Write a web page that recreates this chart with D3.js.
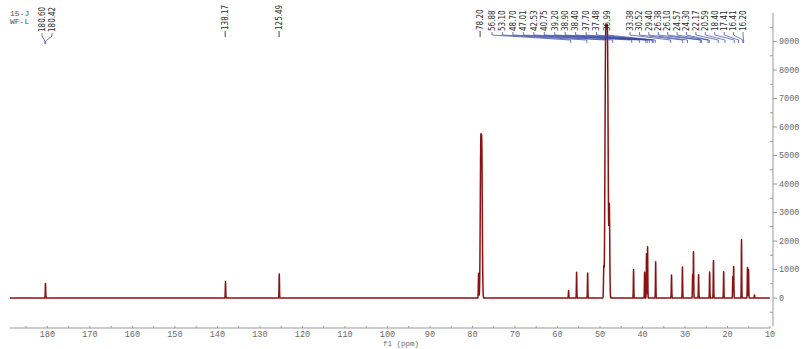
<!DOCTYPE html>
<html>
<head>
<meta charset="utf-8">
<style>
  body { margin: 0; background: #fff; }
  svg { display: block; }
  .tick-label { font-family: "Liberation Mono", "DejaVu Sans Mono", monospace; font-size: 8.5px; fill: #6a6a6a; }
  .peak-label { font-family: "Liberation Sans Narrow", "DejaVu Sans Condensed", sans-serif; font-stretch: condensed; font-size: 8px; fill: #2a2a2a; }
</style>
</head>
<body>
<svg id="chart" width="806" height="349"></svg>
<script src="https://cdn.jsdelivr.net/npm/d3@7"></script>
<script>
// peak list (ppm, height, gaussian sigma in ppm)
const peakPpm = [180.45, 138.1, 125.45, 78.55, 78.05, 77.8, 57.38, 55.5, 52.9, 49.1, 48.7, 48.45, 48.2, 47.8,
  42.1, 39.5, 39.05, 38.8, 36.9, 33.17, 30.6, 28.2, 28.0, 26.8, 24.2, 23.3, 20.9, 18.75, 18.55,
  16.7, 15.3, 15.05, 13.65];
const peakHeight = [520, 570, 860, 880, 4950, 4900, 260, 900, 880, 1000, 7500, 6500, 7500, 3200,
  1000, 900, 1580, 1800, 1270, 820, 1090, 820, 1620, 820, 910, 1320, 920, 760, 1130,
  2050, 1070, 1020, 110];
const peakSigma = [0.05, 0.05, 0.05, 0.06, 0.12, 0.12, 0.05, 0.05, 0.05, 0.07, 0.14, 0.14, 0.14, 0.1,
  0.05, 0.05, 0.05, 0.05, 0.05, 0.05, 0.05, 0.05, 0.05, 0.05, 0.05, 0.05, 0.05, 0.05, 0.05,
  0.05, 0.05, 0.05, 0.05];

// annotations printed above the peaks
const leftLabels = ["180.60", "180.42"];
const singleLabels = ["138.17", "125.49", "78.20"];
const groupOneLabels = ["56.88", "53.10", "48.70", "47.01", "42.53", "40.75", "39.20", "38.90",
  "38.40", "37.70", "37.48", "36.99"];
const groupTwoLabels = ["33.38", "30.52", "29.40", "26.38", "26.10", "24.57", "24.30", "22.17",
  "20.59", "18.40", "17.41", "16.41", "16.20"];

const xTicks = d3.range(180, 9, -10);
const yTicks = d3.range(0, 9001, 1000);
const titleLines = ["15-J", "WF-L"];

const svg = d3.select("#chart");

const x = d3.scaleLinear().domain([188.8, 10]).range([10, 770]);
const y = d3.scaleLinear().domain([-1000, 10000]).range([326.5, 13]);

// build the trace from the peak list
const step = 0.02;
const grid = d3.range(188.8, 10, -step);
const trace = grid.map(p => {
  let v = 0;
  for (let i = 0; i < peakPpm.length; i++) {
    const d = p - peakPpm[i];
    const s = peakSigma[i];
    if (Math.abs(d) < s * 8) v += peakHeight[i] * Math.exp(-d * d / (2 * s * s));
  }
  return [p, v];
});

const line = d3.line().x(d => x(d[0])).y(d => y(d[1]));

svg.append("path")
  .datum(trace)
  .attr("d", line)
  .attr("fill", "none")
  .attr("stroke", "#8a1212")
  .attr("stroke-width", 1.5)
  .attr("stroke-linejoin", "round");

// x axis
const xAxisY = 328;
svg.append("line")
  .attr("x1", 10).attr("x2", 770)
  .attr("y1", xAxisY).attr("y2", xAxisY)
  .attr("stroke", "#999").attr("stroke-width", 1);

svg.append("g").selectAll("line")
  .data(d3.range(185, 9, -5))
  .join("line")
  .attr("x1", d => x(d)).attr("x2", d => x(d))
  .attr("y1", xAxisY - 2).attr("y2", xAxisY)
  .attr("stroke", "#999");

svg.append("g").selectAll("text")
  .data(xTicks)
  .join("text")
  .attr("class", "tick-label")
  .attr("x", d => x(d))
  .attr("y", 337)
  .attr("text-anchor", "middle")
  .text(d => d);

svg.append("text")
  .attr("class", "tick-label")
  .attr("x", 401).attr("y", 346)
  .attr("text-anchor", "middle")
  .style("font-size", "7.5px")
  .text("f1 (ppm)");

// right y axis
const yAxisX = 773;
svg.append("line")
  .attr("x1", yAxisX).attr("x2", yAxisX)
  .attr("y1", y(10000)).attr("y2", y(-1000))
  .attr("stroke", "#999");

svg.append("g").selectAll("line")
  .data(yTicks)
  .join("line")
  .attr("x1", yAxisX).attr("x2", yAxisX + 4)
  .attr("y1", d => y(d)).attr("y2", d => y(d))
  .attr("stroke", "#999");

svg.append("g").selectAll("line")
  .data(d3.range(-500, 10000, 1000))
  .join("line")
  .attr("x1", yAxisX - 3).attr("x2", yAxisX)
  .attr("y1", d => y(d)).attr("y2", d => y(d))
  .attr("stroke", "#999");

svg.append("g").selectAll("text")
  .data(yTicks)
  .join("text")
  .attr("class", "tick-label")
  .attr("x", yAxisX + 6)
  .attr("y", d => y(d))
  .attr("dy", "0.35em")
  .text(d => d);

// title text in the corner
svg.append("g").selectAll("text")
  .data(titleLines)
  .join("text")
  .attr("class", "tick-label")
  .attr("x", 10)
  .attr("y", (d, i) => 16 + i * 8)
  .style("font-size", "8px")
  .style("fill", "#555")
  .text(d => d);

// rotated peak labels
function rotLabel(g, lx, yb, txt) {
  g.append("text")
    .attr("class", "peak-label")
    .attr("transform", `translate(${lx},${yb}) rotate(-90)`)
    .attr("dy", "0.35em")
    .text(txt);
}

const ann = svg.append("g");
singleLabels.forEach(t => {
  const px = x(+t);
  rotLabel(ann, px, 30, t);
  ann.append("line")
    .attr("x1", px).attr("x2", px)
    .attr("y1", 31).attr("y2", 37)
    .attr("stroke", "#333").attr("stroke-width", 0.9);
});

// grouped labels with blue leader lines
function labelGroup(labels, x0, x1, yb) {
  const spread = d3.scaleLinear().domain([0, labels.length - 1]).range([x0, x1]);
  labels.forEach((t, i) => {
    const lx = spread(i);
    const px = x(+t);
    rotLabel(ann, lx, yb, t);
    ann.append("path")
      .attr("d", `M${lx},${yb + 1}L${lx},${yb + 4}L${px},${yb + 9}L${px},${yb + 12}`)
      .attr("fill", "none")
      .attr("stroke", "#3242a0")
      .attr("stroke-width", 0.7);
  });
}

labelGroup(leftLabels, 42, 52, 32);
labelGroup(groupOneLabels, 492, 607, 31);
labelGroup(groupTwoLabels, 630, 743, 31);
</script>
</body>
</html>
